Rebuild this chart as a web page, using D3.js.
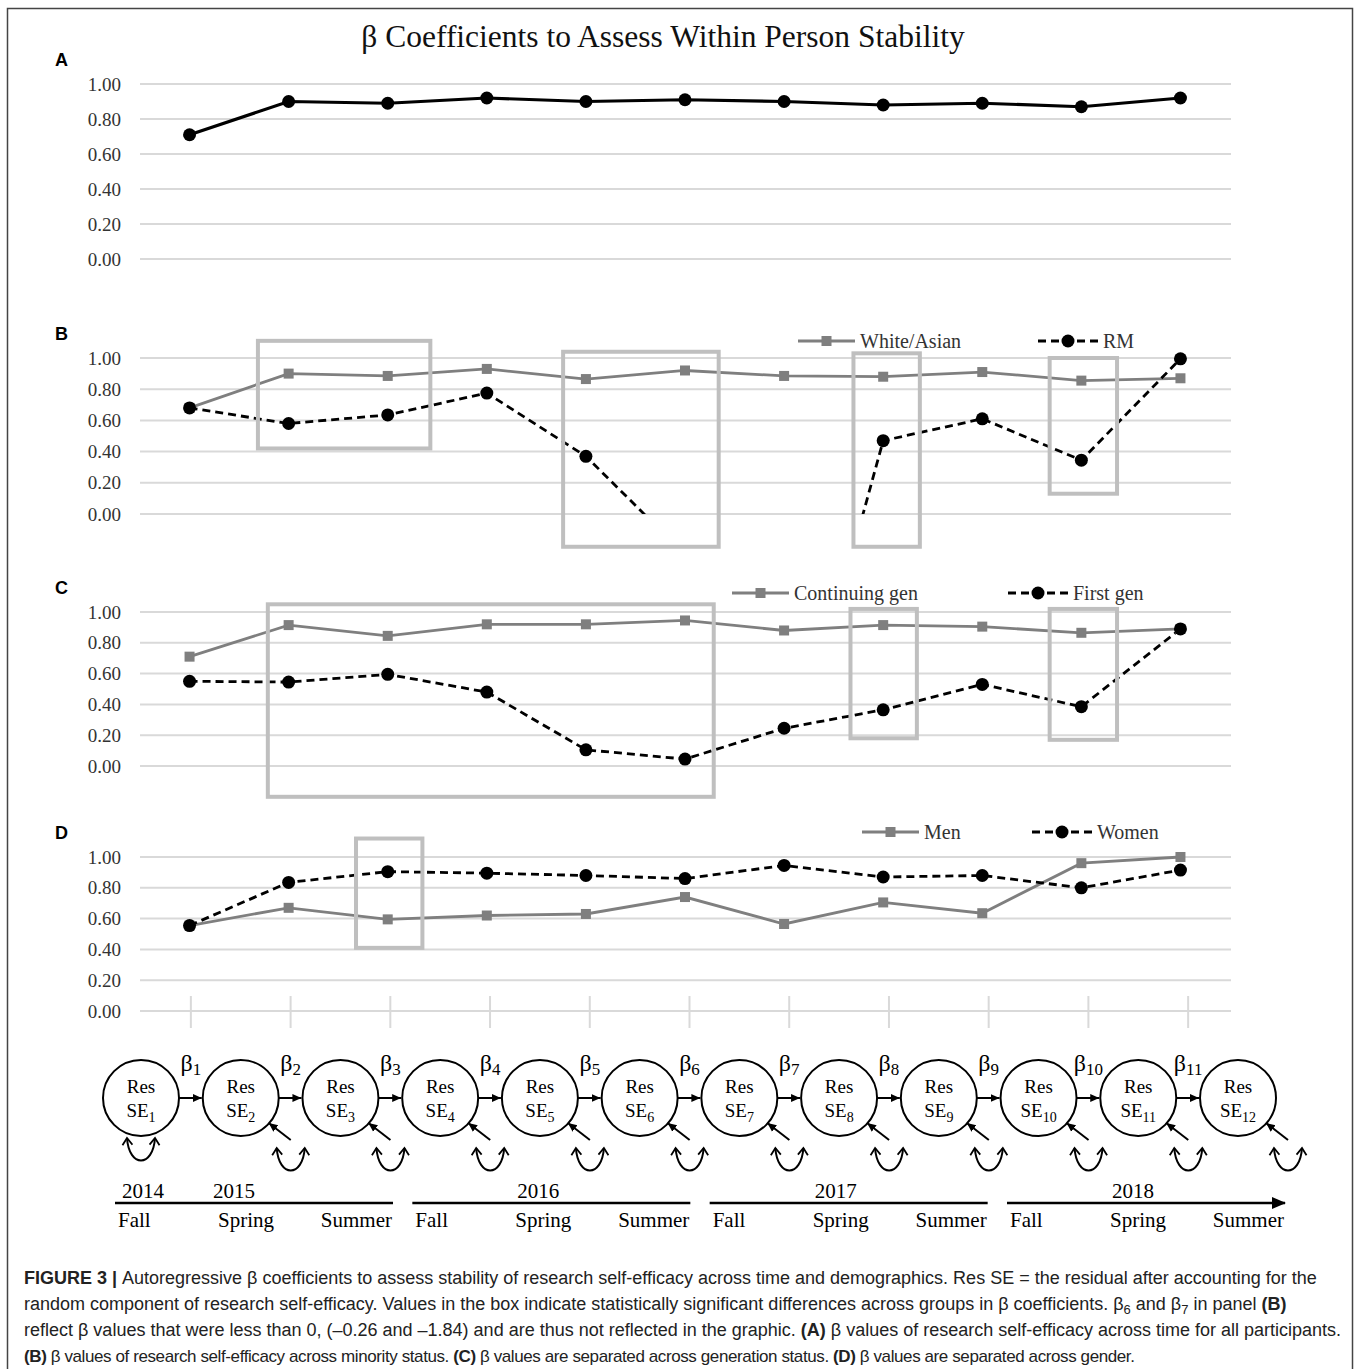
<!DOCTYPE html>
<html>
<head>
<meta charset="utf-8">
<script src="https://cdn.jsdelivr.net/npm/d3@7"></script>
<style>
  body { margin: 0; background: #fff; }
</style>
</head>
<body>
<div id="figure"></div>
<script>
// transitions between the 12 measurement waves
const transitions = ["1", "2", "3", "4", "5", "6", "7", "8", "9", "10", "11"];
const waves = ["1", "2", "3", "4", "5", "6", "7", "8", "9", "10", "11", "12"];
const yTicks = [0, 0.2, 0.4, 0.6, 0.8, 1.0];

// panel A
const allParticipants = [0.71, 0.90, 0.89, 0.92, 0.90, 0.91, 0.90, 0.88, 0.89, 0.87, 0.92];
// panel B (beta 6 and 7 for RM are below 0, see caption)
const whiteAsian = [0.68, 0.90, 0.885, 0.93, 0.865, 0.92, 0.885, 0.88, 0.91, 0.855, 0.87];
const rm = [0.68, 0.58, 0.635, 0.775, 0.37, -0.26, -1.84, 0.47, 0.61, 0.345, 0.995];
// panel C
const continuingGen = [0.71, 0.915, 0.845, 0.92, 0.92, 0.945, 0.88, 0.915, 0.905, 0.865, 0.89];
const firstGen = [0.55, 0.545, 0.595, 0.48, 0.105, 0.045, 0.245, 0.365, 0.53, 0.385, 0.89];
// panel D
const men = [0.555, 0.67, 0.595, 0.62, 0.63, 0.74, 0.565, 0.705, 0.635, 0.96, 1.00];
const women = [0.555, 0.835, 0.905, 0.895, 0.88, 0.86, 0.945, 0.87, 0.88, 0.80, 0.915];

// significance boxes: [from index, to index, top value, bottom value]
const boxesB = [[0.69, 2.43, 1.11, 0.42], [3.77, 5.34, 1.04, -0.21], [6.70, 7.37, 1.03, -0.21], [8.68, 9.36, 1.00, 0.13]];
const boxesC = [[0.79, 5.29, 1.05, -0.20], [6.67, 7.34, 1.02, 0.18], [8.68, 9.36, 1.02, 0.17]];
const boxesD = [[1.68, 2.35, 1.12, 0.41]];

const timelineYears = [["2014", "2015"], ["2016"], ["2017"], ["2018"]];
const seasons = ["Fall", "Spring", "Summer"];

const captionLines = [
  [{t: "FIGURE 3 | ", b: true}, {t: "Autoregressive β coefficients to assess stability of research self-efficacy across time and demographics. Res SE = the residual after accounting for the"}],
  [{t: "random component of research self-efficacy. Values in the box indicate statistically significant differences across groups in β coefficients. β"}, {t: "6", sub: true}, {t: " and β"}, {t: "7", sub: true}, {t: " in panel "}, {t: "(B)", b: true}],
  [{t: "reflect β values that were less than 0, (–0.26 and –1.84) and are thus not reflected in the graphic. "}, {t: "(A)", b: true}, {t: " β values of research self-efficacy across time for all participants."}],
  [{t: "(B)", b: true}, {t: " β values of research self-efficacy across minority status. "}, {t: "(C)", b: true}, {t: " β values are separated across generation status. "}, {t: "(D)", b: true}, {t: " β values are separated across gender."}]
];

(function() {
    const W = 1358, H = 1369;
    const serif = "'Liberation Serif', 'Times New Roman', serif";
    const sans = "'Liberation Sans', Arial, sans-serif";
    const grid = "#d9d9d9", gray = "#7f7f7f", boxColor = "#bfbfbf";

    const svg = d3.select("#figure").append("svg")
        .attr("width", W)
        .attr("height", H);

    const defs = svg.append("defs");
    defs.append("marker")
        .attr("id", "head")
        .attr("viewBox", "0 -5 10 10")
        .attr("refX", 9).attr("refY", 0)
        .attr("markerUnits", "userSpaceOnUse")
        .attr("markerWidth", 10).attr("markerHeight", 10)
        .attr("orient", "auto-start-reverse")
        .append("path")
        .attr("d", "M0,-4L9,0L0,4Z")
        .attr("fill", "#000");
    defs.append("marker")
        .attr("id", "chev")
        .attr("viewBox", "0 -6 10 12")
        .attr("refX", 8).attr("refY", 0)
        .attr("markerUnits", "userSpaceOnUse")
        .attr("markerWidth", 10).attr("markerHeight", 12)
        .attr("orient", "auto-start-reverse")
        .append("path")
        .attr("d", "M1,-5L8,0L1,5")
        .attr("fill", "none")
        .attr("stroke", "#000")
        .attr("stroke-width", 1.8);
    defs.append("marker")
        .attr("id", "bigHead")
        .attr("viewBox", "0 -6 14 12")
        .attr("refX", 13).attr("refY", 0)
        .attr("markerUnits", "userSpaceOnUse")
        .attr("markerWidth", 14).attr("markerHeight", 12)
        .attr("orient", "auto")
        .append("path")
        .attr("d", "M0,-6L14,0L0,6Z")
        .attr("fill", "#000");

    // cadre
    svg.append("rect")
        .attr("x", 7.5).attr("y", 8.5)
        .attr("width", 1345).attr("height", 1400)
        .attr("fill", "none")
        .attr("stroke", "#444")
        .attr("stroke-width", 1.5);

    svg.append("text")
        .attr("x", 663).attr("y", 47)
        .attr("text-anchor", "middle")
        .attr("font-family", serif)
        .attr("font-size", 31.5)
        .attr("fill", "#111")
        .text("β Coefficients to Assess Within Person Stability");

    const x = d3.scalePoint().domain(transitions).range([140, 1230]).padding(0.5);
    const xi = i => x(transitions[0]) + i * x.step();
    const nodeX = d3.scalePoint().domain(waves).range([141, 1238]);

    const panels = [
        {letter: "A", top: 84, bottom: 259, series: [{values: allParticipants, kind: "solid"}], boxes: []},
        {letter: "B", top: 358, bottom: 514, boxes: boxesB, legendY: 341, legendX: [798, 1038],
            series: [{name: "White/Asian", values: whiteAsian, kind: "gray"}, {name: "RM", values: rm, kind: "dash"}]},
        {letter: "C", top: 612, bottom: 766, boxes: boxesC, legendY: 593, legendX: [732, 1008],
            series: [{name: "Continuing gen", values: continuingGen, kind: "gray"}, {name: "First gen", values: firstGen, kind: "dash"}]},
        {letter: "D", top: 857, bottom: 1011, boxes: boxesD, legendY: 832, legendX: [862, 1032], ticks: true,
            series: [{name: "Men", values: men, kind: "gray"}, {name: "Women", values: women, kind: "dash"}]}
    ];

    function drawMarker(g, kind, cx, cy) {
        if (kind === "gray") {
            g.append("rect")
                .attr("x", cx - 5).attr("y", cy - 5)
                .attr("width", 10).attr("height", 10)
                .attr("fill", gray);
        } else {
            g.append("circle")
                .attr("cx", cx).attr("cy", cy)
                .attr("r", 6.5)
                .attr("fill", "#000");
        }
    }

    function styleLine(sel, kind) {
        sel.attr("fill", "none")
            .attr("stroke", kind === "gray" ? gray : "#000")
            .attr("stroke-width", kind === "solid" ? 3.2 : 2.8);
        if (kind === "dash") sel.attr("stroke-dasharray", "8,5");
        return sel;
    }

    panels.forEach((p, pi) => {
        const y = d3.scaleLinear().domain([0, 1]).range([p.bottom, p.top]);
        const g = svg.append("g");

        g.append("text")
            .attr("x", 55).attr("y", p.top - 18)
            .attr("font-family", sans)
            .attr("font-weight", "bold")
            .attr("font-size", 18)
            .attr("fill", "#000")
            .text(p.letter);

        // grille
        g.selectAll(".grid")
            .data(yTicks)
            .enter().append("line")
            .attr("x1", 140).attr("x2", 1231)
            .attr("y1", d => y(d)).attr("y2", d => y(d))
            .attr("stroke", grid)
            .attr("stroke-width", 2);

        g.selectAll(".tick")
            .data(yTicks)
            .enter().append("text")
            .attr("x", 121).attr("y", d => y(d))
            .attr("dy", "0.35em")
            .attr("text-anchor", "end")
            .attr("font-family", serif)
            .attr("font-size", 19)
            .attr("fill", "#333")
            .text(d => d3.format(".2f")(d));

        if (p.ticks) {
            const mids = waves.slice(0, -1).map((w, i) => (nodeX(w) + nodeX(waves[i + 1])) / 2);
            g.selectAll(".vtick")
                .data(mids)
                .enter().append("line")
                .attr("x1", d => d).attr("x2", d => d)
                .attr("y1", y(0) - 15).attr("y2", y(0) + 17)
                .attr("stroke", grid)
                .attr("stroke-width", 2);
        }

        // valeurs négatives coupées à 0
        const clipId = "clip" + pi;
        defs.append("clipPath").attr("id", clipId)
            .append("rect")
            .attr("x", 0).attr("y", p.top - 60)
            .attr("width", W).attr("height", y(0) - p.top + 60);

        const line = d3.line()
            .x((d, i) => x(transitions[i]))
            .y(d => y(d));

        p.series.forEach(s => {
            styleLine(g.append("path").datum(s.values).attr("d", line).attr("clip-path", `url(#${clipId})`), s.kind);
        });
        p.series.forEach(s => {
            s.values.forEach((v, i) => {
                if (v >= 0) drawMarker(g, s.kind, x(transitions[i]), y(v));
            });
        });

        // boîtes de significativité
        g.selectAll(".box")
            .data(p.boxes)
            .enter().append("rect")
            .attr("x", d => xi(d[0]))
            .attr("y", d => y(d[2]))
            .attr("width", d => xi(d[1]) - xi(d[0]))
            .attr("height", d => y(d[3]) - y(d[2]))
            .attr("fill", "none")
            .attr("stroke", boxColor)
            .attr("stroke-width", 4);

        // légende
        if (p.legendX) {
            p.series.forEach((s, si) => {
                const lx = p.legendX[si], ly = p.legendY;
                const len = s.kind === "gray" ? 57 : 60;
                styleLine(g.append("line")
                    .attr("x1", lx).attr("x2", lx + len)
                    .attr("y1", ly).attr("y2", ly), s.kind);
                drawMarker(g, s.kind, lx + len / 2, ly);
                g.append("text")
                    .attr("x", lx + len + 5).attr("y", ly)
                    .attr("dy", "0.35em")
                    .attr("font-family", serif)
                    .attr("font-size", 20)
                    .attr("fill", "#333")
                    .text(s.name);
            });
        }
    });

    // diagramme autorégressif
    const cy = 1098, r = 38;
    const diag = svg.append("g")
        .attr("font-family", serif)
        .attr("fill", "#000");

    waves.forEach((w, i) => {
        const cx = nodeX(w);
        diag.append("circle")
            .attr("cx", cx).attr("cy", cy).attr("r", r)
            .attr("fill", "#fff")
            .attr("stroke", "#000")
            .attr("stroke-width", 2);
        diag.append("text")
            .attr("x", cx).attr("y", cy - 5)
            .attr("text-anchor", "middle")
            .attr("font-size", 19)
            .text("Res");
        const se = diag.append("text")
            .attr("x", cx).attr("y", cy + 19)
            .attr("text-anchor", "middle")
            .attr("font-size", 19);
        se.append("tspan").text("SE");
        se.append("tspan").attr("font-size", 14).attr("dy", 5).text(w);

        if (i > 0) {
            diag.append("line")
                .attr("x1", cx + 50).attr("y1", cy + 42)
                .attr("x2", cx + 28).attr("y2", cy + 25)
                .attr("stroke", "#000")
                .attr("stroke-width", 2)
                .attr("marker-end", "url(#head)");
            diag.append("path")
                .attr("d", `M${cx + 36},${cy + 50} C${cx + 38},${cy + 80} ${cx + 62},${cy + 80} ${cx + 64},${cy + 50}`)
                .attr("fill", "none")
                .attr("stroke", "#000")
                .attr("stroke-width", 2)
                .attr("marker-start", "url(#chev)")
                .attr("marker-end", "url(#chev)");
        } else {
            diag.append("path")
                .attr("d", `M${cx - 14},${cy + 40} C${cx - 12},${cy + 70} ${cx + 12},${cy + 70} ${cx + 14},${cy + 40}`)
                .attr("fill", "none")
                .attr("stroke", "#000")
                .attr("stroke-width", 2)
                .attr("marker-start", "url(#chev)")
                .attr("marker-end", "url(#chev)");
        }

        if (i < waves.length - 1) {
            const nx = nodeX(waves[i + 1]);
            diag.append("line")
                .attr("x1", cx + r).attr("x2", nx - r - 1)
                .attr("y1", cy).attr("y2", cy)
                .attr("stroke", "#000")
                .attr("stroke-width", 2)
                .attr("marker-end", "url(#head)");
            const b = diag.append("text")
                .attr("x", (cx + nx) / 2).attr("y", 1071)
                .attr("text-anchor", "middle")
                .attr("font-size", 24);
            b.append("tspan").text("β");
            b.append("tspan").attr("font-size", 17).attr("dy", 4).text(transitions[i]);
        }
    });

    // frise chronologique
    const seg = d3.scaleBand()
        .domain(timelineYears.map(d => d.join("-")))
        .range([115, 1285])
        .paddingInner(0.065);
    const lineY = 1203;
    const tl = svg.append("g")
        .attr("font-family", serif)
        .attr("font-size", 21)
        .attr("fill", "#000");

    timelineYears.forEach((yrs, i) => {
        const x0 = seg(yrs.join("-")), x1 = x0 + seg.bandwidth(), mid = (x0 + x1) / 2;
        const last = i === timelineYears.length - 1;
        tl.append("line")
            .attr("x1", x0).attr("x2", x1)
            .attr("y1", lineY).attr("y2", lineY)
            .attr("stroke", "#000")
            .attr("stroke-width", 2.5)
            .attr("marker-end", last ? "url(#bigHead)" : null);
        if (yrs.length === 2) {
            tl.append("text").attr("x", x0 + 28).attr("y", lineY - 5).attr("text-anchor", "middle").text(yrs[0]);
            tl.append("text").attr("x", mid - 20).attr("y", lineY - 5).attr("text-anchor", "middle").text(yrs[1]);
        } else {
            tl.append("text").attr("x", mid - 13).attr("y", lineY - 5).attr("text-anchor", "middle").text(yrs[0]);
        }
        tl.append("text").attr("x", x0 + 3).attr("y", lineY + 24).attr("text-anchor", "start").text(seasons[0]);
        tl.append("text").attr("x", mid - 8).attr("y", lineY + 24).attr("text-anchor", "middle").text(seasons[1]);
        tl.append("text").attr("x", x1 - 1).attr("y", lineY + 24).attr("text-anchor", "end").text(seasons[2]);
    });

    // légende de la figure
    const cap = svg.append("g")
        .attr("font-family", sans)
        .attr("font-size", 18)
        .attr("fill", "#222");
    captionLines.forEach((segs, i) => {
        const t = cap.append("text")
            .attr("x", 24).attr("y", 1284 + i * 26);
        // dernière ligne plus serrée dans l'original
        if (i === captionLines.length - 1) {
            t.attr("font-size", 17).attr("letter-spacing", -0.4);
        }
        segs.forEach(s => {
            const ts = t.append("tspan")
                .attr("font-weight", s.b ? "bold" : null)
                .text(s.t);
            if (s.sub) ts.attr("font-size", 13).attr("dy", 4);
            else ts.attr("dy", 0);
        });
        // remettre la ligne de base après un indice
        t.selectAll("tspan").each(function(d, k) {
            if (k > 0 && segs[k - 1].sub && !segs[k].sub) d3.select(this).attr("dy", -4);
        });
    });
})();
</script>
</body>
</html>
